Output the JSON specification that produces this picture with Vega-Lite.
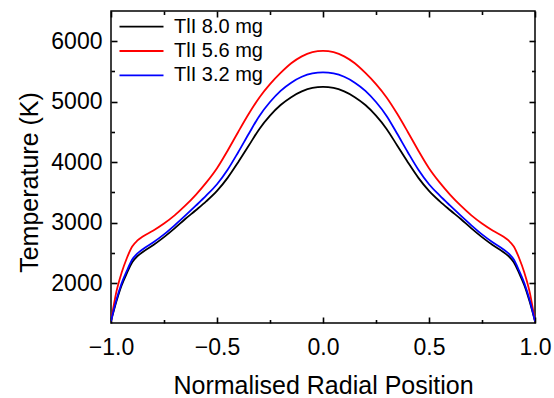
{
  "$schema": "https://vega.github.io/schema/vega-lite/v6.json",
  "width": 424,
  "height": 312,
  "autosize": "none",
  "padding": {"left": 111, "top": 11, "right": 19, "bottom": 75},
  "background": "white",
  "config": {
    "view": {"stroke": "#000000", "strokeWidth": 1.5},
    "font": "Liberation Sans",
    "axis": {"grid": false, "domain": false, "labelColor": "#000000", "titleColor": "#000000", "labelFont": "Liberation Sans", "titleFont": "Liberation Sans", "titleFontWeight": "normal"}
  },
  "data": {"values": [
    {"x": -1, "T": 1370, "s": "TlI 8.0 mg"}, {"x": -0.975, "T": 1690, "s": "TlI 8.0 mg"}, {"x": -0.95, "T": 1960, "s": "TlI 8.0 mg"}, {"x": -0.925, "T": 2165, "s": "TlI 8.0 mg"}, {"x": -0.9, "T": 2345, "s": "TlI 8.0 mg"}, {"x": -0.875, "T": 2445, "s": "TlI 8.0 mg"}, {"x": -0.85, "T": 2515, "s": "TlI 8.0 mg"}, {"x": -0.8, "T": 2630, "s": "TlI 8.0 mg"}, {"x": -0.75, "T": 2760, "s": "TlI 8.0 mg"}, {"x": -0.7, "T": 2905, "s": "TlI 8.0 mg"}, {"x": -0.65, "T": 3060, "s": "TlI 8.0 mg"}, {"x": -0.6, "T": 3205, "s": "TlI 8.0 mg"}, {"x": -0.55, "T": 3355, "s": "TlI 8.0 mg"}, {"x": -0.5, "T": 3525, "s": "TlI 8.0 mg"}, {"x": -0.45, "T": 3740, "s": "TlI 8.0 mg"}, {"x": -0.4, "T": 4000, "s": "TlI 8.0 mg"}, {"x": -0.35, "T": 4275, "s": "TlI 8.0 mg"}, {"x": -0.3, "T": 4550, "s": "TlI 8.0 mg"}, {"x": -0.25, "T": 4770, "s": "TlI 8.0 mg"}, {"x": -0.2, "T": 4945, "s": "TlI 8.0 mg"}, {"x": -0.15, "T": 5075, "s": "TlI 8.0 mg"}, {"x": -0.1, "T": 5170, "s": "TlI 8.0 mg"}, {"x": -0.05, "T": 5228, "s": "TlI 8.0 mg"}, {"x": 0, "T": 5245, "s": "TlI 8.0 mg"}, {"x": 0.05, "T": 5228, "s": "TlI 8.0 mg"}, {"x": 0.1, "T": 5170, "s": "TlI 8.0 mg"}, {"x": 0.15, "T": 5075, "s": "TlI 8.0 mg"}, {"x": 0.2, "T": 4945, "s": "TlI 8.0 mg"}, {"x": 0.25, "T": 4770, "s": "TlI 8.0 mg"}, {"x": 0.3, "T": 4550, "s": "TlI 8.0 mg"}, {"x": 0.35, "T": 4275, "s": "TlI 8.0 mg"}, {"x": 0.4, "T": 4000, "s": "TlI 8.0 mg"}, {"x": 0.45, "T": 3740, "s": "TlI 8.0 mg"}, {"x": 0.5, "T": 3525, "s": "TlI 8.0 mg"}, {"x": 0.55, "T": 3355, "s": "TlI 8.0 mg"}, {"x": 0.6, "T": 3205, "s": "TlI 8.0 mg"}, {"x": 0.65, "T": 3060, "s": "TlI 8.0 mg"}, {"x": 0.7, "T": 2905, "s": "TlI 8.0 mg"}, {"x": 0.75, "T": 2760, "s": "TlI 8.0 mg"}, {"x": 0.8, "T": 2630, "s": "TlI 8.0 mg"}, {"x": 0.85, "T": 2515, "s": "TlI 8.0 mg"}, {"x": 0.875, "T": 2445, "s": "TlI 8.0 mg"}, {"x": 0.9, "T": 2345, "s": "TlI 8.0 mg"}, {"x": 0.925, "T": 2165, "s": "TlI 8.0 mg"}, {"x": 0.95, "T": 1960, "s": "TlI 8.0 mg"}, {"x": 0.975, "T": 1690, "s": "TlI 8.0 mg"}, {"x": 1, "T": 1370, "s": "TlI 8.0 mg"},
    {"x": -1, "T": 1370, "s": "TlI 5.6 mg"}, {"x": -0.975, "T": 1850, "s": "TlI 5.6 mg"}, {"x": -0.95, "T": 2170, "s": "TlI 5.6 mg"}, {"x": -0.925, "T": 2415, "s": "TlI 5.6 mg"}, {"x": -0.9, "T": 2605, "s": "TlI 5.6 mg"}, {"x": -0.875, "T": 2705, "s": "TlI 5.6 mg"}, {"x": -0.85, "T": 2770, "s": "TlI 5.6 mg"}, {"x": -0.8, "T": 2870, "s": "TlI 5.6 mg"}, {"x": -0.75, "T": 2985, "s": "TlI 5.6 mg"}, {"x": -0.7, "T": 3120, "s": "TlI 5.6 mg"}, {"x": -0.65, "T": 3280, "s": "TlI 5.6 mg"}, {"x": -0.6, "T": 3460, "s": "TlI 5.6 mg"}, {"x": -0.55, "T": 3665, "s": "TlI 5.6 mg"}, {"x": -0.5, "T": 3900, "s": "TlI 5.6 mg"}, {"x": -0.45, "T": 4190, "s": "TlI 5.6 mg"}, {"x": -0.4, "T": 4500, "s": "TlI 5.6 mg"}, {"x": -0.35, "T": 4800, "s": "TlI 5.6 mg"}, {"x": -0.3, "T": 5070, "s": "TlI 5.6 mg"}, {"x": -0.25, "T": 5290, "s": "TlI 5.6 mg"}, {"x": -0.2, "T": 5475, "s": "TlI 5.6 mg"}, {"x": -0.15, "T": 5635, "s": "TlI 5.6 mg"}, {"x": -0.1, "T": 5750, "s": "TlI 5.6 mg"}, {"x": -0.05, "T": 5818, "s": "TlI 5.6 mg"}, {"x": 0, "T": 5840, "s": "TlI 5.6 mg"}, {"x": 0.05, "T": 5818, "s": "TlI 5.6 mg"}, {"x": 0.1, "T": 5750, "s": "TlI 5.6 mg"}, {"x": 0.15, "T": 5635, "s": "TlI 5.6 mg"}, {"x": 0.2, "T": 5475, "s": "TlI 5.6 mg"}, {"x": 0.25, "T": 5290, "s": "TlI 5.6 mg"}, {"x": 0.3, "T": 5070, "s": "TlI 5.6 mg"}, {"x": 0.35, "T": 4800, "s": "TlI 5.6 mg"}, {"x": 0.4, "T": 4500, "s": "TlI 5.6 mg"}, {"x": 0.45, "T": 4190, "s": "TlI 5.6 mg"}, {"x": 0.5, "T": 3900, "s": "TlI 5.6 mg"}, {"x": 0.55, "T": 3665, "s": "TlI 5.6 mg"}, {"x": 0.6, "T": 3460, "s": "TlI 5.6 mg"}, {"x": 0.65, "T": 3280, "s": "TlI 5.6 mg"}, {"x": 0.7, "T": 3120, "s": "TlI 5.6 mg"}, {"x": 0.75, "T": 2985, "s": "TlI 5.6 mg"}, {"x": 0.8, "T": 2870, "s": "TlI 5.6 mg"}, {"x": 0.85, "T": 2770, "s": "TlI 5.6 mg"}, {"x": 0.875, "T": 2705, "s": "TlI 5.6 mg"}, {"x": 0.9, "T": 2605, "s": "TlI 5.6 mg"}, {"x": 0.925, "T": 2415, "s": "TlI 5.6 mg"}, {"x": 0.95, "T": 2170, "s": "TlI 5.6 mg"}, {"x": 0.975, "T": 1850, "s": "TlI 5.6 mg"}, {"x": 1, "T": 1370, "s": "TlI 5.6 mg"},
    {"x": -1, "T": 1370, "s": "TlI 3.2 mg"}, {"x": -0.975, "T": 1715, "s": "TlI 3.2 mg"}, {"x": -0.95, "T": 1995, "s": "TlI 3.2 mg"}, {"x": -0.925, "T": 2205, "s": "TlI 3.2 mg"}, {"x": -0.9, "T": 2390, "s": "TlI 3.2 mg"}, {"x": -0.875, "T": 2490, "s": "TlI 3.2 mg"}, {"x": -0.85, "T": 2560, "s": "TlI 3.2 mg"}, {"x": -0.8, "T": 2675, "s": "TlI 3.2 mg"}, {"x": -0.75, "T": 2805, "s": "TlI 3.2 mg"}, {"x": -0.7, "T": 2955, "s": "TlI 3.2 mg"}, {"x": -0.65, "T": 3115, "s": "TlI 3.2 mg"}, {"x": -0.6, "T": 3280, "s": "TlI 3.2 mg"}, {"x": -0.55, "T": 3450, "s": "TlI 3.2 mg"}, {"x": -0.5, "T": 3635, "s": "TlI 3.2 mg"}, {"x": -0.45, "T": 3875, "s": "TlI 3.2 mg"}, {"x": -0.4, "T": 4165, "s": "TlI 3.2 mg"}, {"x": -0.35, "T": 4470, "s": "TlI 3.2 mg"}, {"x": -0.3, "T": 4765, "s": "TlI 3.2 mg"}, {"x": -0.25, "T": 4995, "s": "TlI 3.2 mg"}, {"x": -0.2, "T": 5180, "s": "TlI 3.2 mg"}, {"x": -0.15, "T": 5315, "s": "TlI 3.2 mg"}, {"x": -0.1, "T": 5412, "s": "TlI 3.2 mg"}, {"x": -0.05, "T": 5468, "s": "TlI 3.2 mg"}, {"x": 0, "T": 5485, "s": "TlI 3.2 mg"}, {"x": 0.05, "T": 5468, "s": "TlI 3.2 mg"}, {"x": 0.1, "T": 5412, "s": "TlI 3.2 mg"}, {"x": 0.15, "T": 5315, "s": "TlI 3.2 mg"}, {"x": 0.2, "T": 5180, "s": "TlI 3.2 mg"}, {"x": 0.25, "T": 4995, "s": "TlI 3.2 mg"}, {"x": 0.3, "T": 4765, "s": "TlI 3.2 mg"}, {"x": 0.35, "T": 4470, "s": "TlI 3.2 mg"}, {"x": 0.4, "T": 4165, "s": "TlI 3.2 mg"}, {"x": 0.45, "T": 3875, "s": "TlI 3.2 mg"}, {"x": 0.5, "T": 3635, "s": "TlI 3.2 mg"}, {"x": 0.55, "T": 3450, "s": "TlI 3.2 mg"}, {"x": 0.6, "T": 3280, "s": "TlI 3.2 mg"}, {"x": 0.65, "T": 3115, "s": "TlI 3.2 mg"}, {"x": 0.7, "T": 2955, "s": "TlI 3.2 mg"}, {"x": 0.75, "T": 2805, "s": "TlI 3.2 mg"}, {"x": 0.8, "T": 2675, "s": "TlI 3.2 mg"}, {"x": 0.85, "T": 2560, "s": "TlI 3.2 mg"}, {"x": 0.875, "T": 2490, "s": "TlI 3.2 mg"}, {"x": 0.9, "T": 2390, "s": "TlI 3.2 mg"}, {"x": 0.925, "T": 2205, "s": "TlI 3.2 mg"}, {"x": 0.95, "T": 1995, "s": "TlI 3.2 mg"}, {"x": 0.975, "T": 1715, "s": "TlI 3.2 mg"}, {"x": 1, "T": 1370, "s": "TlI 3.2 mg"}
  ]},
  "layer": [
    {
      "mark": {"type": "line", "interpolate": "monotone", "strokeWidth": 1.8, "clip": true},
      "encoding": {
        "x": {"field": "x", "type": "quantitative", "scale": {"domain": [-1, 1], "nice": false, "zero": false},
          "axis": {"orient": "bottom", "values": [-1, -0.5, 0, 0.5, 1], "format": ".1f", "ticks": true, "tickSize": -6, "tickColor": "black", "tickWidth": 1.6, "tickOpacity": 1, "labelFontSize": 23, "labelPadding": 19, "labelFlush": false, "title": "Normalised Radial Position", "titleFontSize": 25, "titlePadding": 14}},
        "y": {"field": "T", "type": "quantitative", "scale": {"domain": [1340, 6500], "nice": false, "zero": false},
          "axis": {"orient": "left", "values": [2000, 3000, 4000, 5000, 6000], "format": "d", "ticks": true, "tickSize": -6, "tickColor": "black", "tickWidth": 1.6, "tickOpacity": 1, "labelFontSize": 23, "labelPadding": 15, "title": "Temperature (K)", "titleFontSize": 25, "titlePadding": 8, "titleY": 171}},
        "color": {"field": "s", "type": "nominal", "sort": ["TlI 8.0 mg", "TlI 5.6 mg", "TlI 3.2 mg"],
          "scale": {"domain": ["TlI 8.0 mg", "TlI 5.6 mg", "TlI 3.2 mg"], "range": ["#000000", "#ff0000", "#0000ff"]},
          "legend": {"orient": "none", "legendX": 20.5, "legendY": 5.7, "title": null, "padding": 0, "symbolType": "M-4,0H4", "symbolSize": 121, "symbolStrokeWidth": 1.8, "labelFontSize": 20, "labelFont": "Liberation Sans", "labelColor": "#000000", "labelOffset": 22.5, "rowPadding": 4.3, "labelLimit": 300}}
      }
    },
    {
      "mark": {"type": "line", "opacity": 0},
      "encoding": {
        "x": {"field": "x", "type": "quantitative", "scale": {"domain": [-1, 1], "nice": false, "zero": false},
          "axis": {"orient": "bottom", "values": [-0.75, -0.25, 0.25, 0.75], "labels": false, "ticks": true, "tickSize": -3.5, "tickColor": "black", "tickWidth": 1.6, "tickOpacity": 1, "title": null}},
        "y": {"field": "T", "type": "quantitative", "scale": {"domain": [1340, 6500], "nice": false, "zero": false},
          "axis": {"orient": "left", "values": [2500, 3500, 4500, 5500], "labels": false, "ticks": true, "tickSize": -3.5, "tickColor": "black", "tickWidth": 1.6, "tickOpacity": 1, "title": null}}
      }
    },
    {
      "mark": {"type": "line", "opacity": 0},
      "encoding": {
        "x": {"field": "x", "type": "quantitative", "scale": {"domain": [-1, 1], "nice": false, "zero": false},
          "axis": {"orient": "top", "values": [-1, -0.5, 0, 0.5, 1], "labels": false, "ticks": true, "tickSize": -6, "tickColor": "black", "tickWidth": 1.6, "tickOpacity": 1, "title": null}},
        "y": {"field": "T", "type": "quantitative", "scale": {"domain": [1340, 6500], "nice": false, "zero": false},
          "axis": {"orient": "right", "values": [2000, 3000, 4000, 5000, 6000], "labels": false, "ticks": true, "tickSize": -6, "tickColor": "black", "tickWidth": 1.6, "tickOpacity": 1, "title": null}}
      }
    },
    {
      "mark": {"type": "line", "opacity": 0},
      "encoding": {
        "x": {"field": "x", "type": "quantitative", "scale": {"domain": [-1, 1], "nice": false, "zero": false},
          "axis": {"orient": "top", "values": [-0.75, -0.25, 0.25, 0.75], "labels": false, "ticks": true, "tickSize": -3.5, "tickColor": "black", "tickWidth": 1.6, "tickOpacity": 1, "title": null}},
        "y": {"field": "T", "type": "quantitative", "scale": {"domain": [1340, 6500], "nice": false, "zero": false},
          "axis": {"orient": "right", "values": [2500, 3500, 4500, 5500], "labels": false, "ticks": true, "tickSize": -3.5, "tickColor": "black", "tickWidth": 1.6, "tickOpacity": 1, "title": null}}
      }
    }
  ],
  "resolve": {"axis": {"x": "independent", "y": "independent"}}
}
